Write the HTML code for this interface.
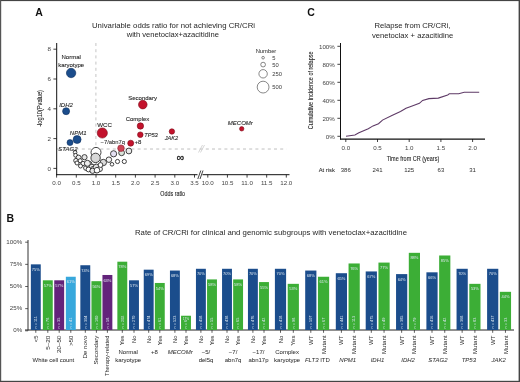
<!DOCTYPE html>
<html><head><meta charset="utf-8"><style>
html,body{margin:0;padding:0;background:#fff;width:520px;height:382px;overflow:hidden}
svg{display:block;font-family:"Liberation Sans", sans-serif;will-change:transform}
</style></head><body>
<svg width="520" height="382" viewBox="0 0 520 382">
<rect width="520" height="382" fill="#fff"/>
<text x="35.30" y="16.00" font-size="10.50" text-anchor="start" fill="#111" style="font-weight:bold" >A</text>
<text x="173.50" y="28.00" font-size="7.90" text-anchor="middle" fill="#262626" textLength="163.00" lengthAdjust="spacingAndGlyphs" >Univariable odds ratio for not achieving CR/CRi</text>
<text x="172.80" y="37.40" font-size="7.90" text-anchor="middle" fill="#262626" textLength="92.30" lengthAdjust="spacingAndGlyphs" >with venetoclax+azacitidine</text>
<line x1="95.90" y1="43.00" x2="95.90" y2="174.50" stroke="#b8b8b8" stroke-width="0.80" stroke-dasharray="3,3.2"/>
<line x1="57.00" y1="149.02" x2="286.50" y2="149.02" stroke="#b8b8b8" stroke-width="0.90" stroke-dasharray="3,3.2"/>
<line x1="56.70" y1="43.00" x2="56.70" y2="175.20" stroke="#111" stroke-width="1.00" />
<line x1="56.20" y1="174.70" x2="289.50" y2="174.70" stroke="#111" stroke-width="1.00" />
<line x1="53.40" y1="168.40" x2="56.70" y2="168.40" stroke="#111" stroke-width="0.80" />
<text x="49.30" y="170.60" font-size="6.20" text-anchor="middle" fill="#444" >0</text>
<line x1="53.40" y1="138.60" x2="56.70" y2="138.60" stroke="#111" stroke-width="0.80" />
<text x="49.30" y="140.80" font-size="6.20" text-anchor="middle" fill="#444" >2</text>
<line x1="53.40" y1="108.80" x2="56.70" y2="108.80" stroke="#111" stroke-width="0.80" />
<text x="49.30" y="111.00" font-size="6.20" text-anchor="middle" fill="#444" >4</text>
<line x1="53.40" y1="79.00" x2="56.70" y2="79.00" stroke="#111" stroke-width="0.80" />
<text x="49.30" y="81.20" font-size="6.20" text-anchor="middle" fill="#444" >6</text>
<line x1="53.40" y1="49.20" x2="56.70" y2="49.20" stroke="#111" stroke-width="0.80" />
<text x="49.30" y="51.40" font-size="6.20" text-anchor="middle" fill="#444" >8</text>
<line x1="56.60" y1="174.70" x2="56.60" y2="177.60" stroke="#111" stroke-width="0.80" />
<text x="56.60" y="185.40" font-size="6.20" text-anchor="middle" fill="#444" >0.0</text>
<line x1="76.30" y1="174.70" x2="76.30" y2="177.60" stroke="#111" stroke-width="0.80" />
<text x="76.30" y="185.40" font-size="6.20" text-anchor="middle" fill="#444" >0.5</text>
<line x1="96.00" y1="174.70" x2="96.00" y2="177.60" stroke="#111" stroke-width="0.80" />
<text x="96.00" y="185.40" font-size="6.20" text-anchor="middle" fill="#444" >1.0</text>
<line x1="115.70" y1="174.70" x2="115.70" y2="177.60" stroke="#111" stroke-width="0.80" />
<text x="115.70" y="185.40" font-size="6.20" text-anchor="middle" fill="#444" >1.5</text>
<line x1="135.40" y1="174.70" x2="135.40" y2="177.60" stroke="#111" stroke-width="0.80" />
<text x="135.40" y="185.40" font-size="6.20" text-anchor="middle" fill="#444" >2.0</text>
<line x1="155.10" y1="174.70" x2="155.10" y2="177.60" stroke="#111" stroke-width="0.80" />
<text x="155.10" y="185.40" font-size="6.20" text-anchor="middle" fill="#444" >2.5</text>
<line x1="174.80" y1="174.70" x2="174.80" y2="177.60" stroke="#111" stroke-width="0.80" />
<text x="174.80" y="185.40" font-size="6.20" text-anchor="middle" fill="#444" >3.0</text>
<line x1="194.50" y1="174.70" x2="194.50" y2="177.60" stroke="#111" stroke-width="0.80" />
<text x="194.50" y="185.40" font-size="6.20" text-anchor="middle" fill="#444" >3.5</text>
<line x1="207.80" y1="174.70" x2="207.80" y2="177.60" stroke="#111" stroke-width="0.80" />
<text x="207.80" y="185.40" font-size="6.20" text-anchor="middle" fill="#444" >10.0</text>
<line x1="227.43" y1="174.70" x2="227.43" y2="177.60" stroke="#111" stroke-width="0.80" />
<text x="227.43" y="185.40" font-size="6.20" text-anchor="middle" fill="#444" >10.5</text>
<line x1="247.05" y1="174.70" x2="247.05" y2="177.60" stroke="#111" stroke-width="0.80" />
<text x="247.05" y="185.40" font-size="6.20" text-anchor="middle" fill="#444" >11.0</text>
<line x1="266.68" y1="174.70" x2="266.68" y2="177.60" stroke="#111" stroke-width="0.80" />
<text x="266.68" y="185.40" font-size="6.20" text-anchor="middle" fill="#444" >11.5</text>
<line x1="286.30" y1="174.70" x2="286.30" y2="177.60" stroke="#111" stroke-width="0.80" />
<text x="286.30" y="185.40" font-size="6.20" text-anchor="middle" fill="#444" >12.0</text>
<text x="172.70" y="196.00" font-size="7.00" text-anchor="middle" fill="#262626" stroke="#262626" stroke-width="0.10" textLength="24.70" lengthAdjust="spacingAndGlyphs" >Odds ratio</text>
<text x="42.00" y="108.40" font-size="7.00" text-anchor="middle" fill="#262626" stroke="#262626" stroke-width="0.10" textLength="36.80" lengthAdjust="spacingAndGlyphs" transform="rotate(-90 42.00 108.40)" >-log10(Pvalue)</text>
<rect x="197.5" y="171" width="5" height="8" fill="#fff"/>
<line x1="197.80" y1="179.00" x2="200.80" y2="170.50" stroke="#111" stroke-width="0.80" />
<line x1="200.00" y1="179.00" x2="203.00" y2="170.50" stroke="#111" stroke-width="0.80" />
<line x1="198.50" y1="152.50" x2="202.50" y2="145.00" stroke="#ccc" stroke-width="0.80" />
<line x1="200.50" y1="152.50" x2="204.50" y2="145.00" stroke="#ccc" stroke-width="0.80" />
<text x="180.60" y="160.90" font-size="10.50" text-anchor="middle" fill="#222" stroke="#222" stroke-width="0.35" >∞</text>
<circle cx="75.10" cy="152.40" r="1.80" fill="#fff" stroke="#2e2e2e" stroke-width="0.90"/>
<circle cx="75.60" cy="155.30" r="1.90" fill="#fff" stroke="#2e2e2e" stroke-width="0.90"/>
<circle cx="78.60" cy="157.60" r="2.50" fill="#eee" stroke="#2e2e2e" stroke-width="0.90"/>
<circle cx="84.50" cy="157.20" r="2.60" fill="#e6e6e6" stroke="#2e2e2e" stroke-width="0.90"/>
<circle cx="75.90" cy="160.60" r="2.20" fill="#f4f4f4" stroke="#2e2e2e" stroke-width="0.90"/>
<circle cx="80.20" cy="160.70" r="2.00" fill="#fff" stroke="#2e2e2e" stroke-width="0.90"/>
<circle cx="77.00" cy="163.00" r="2.00" fill="#fff" stroke="#2e2e2e" stroke-width="0.90"/>
<circle cx="83.00" cy="163.50" r="2.10" fill="#fff" stroke="#2e2e2e" stroke-width="0.90"/>
<circle cx="80.50" cy="166.00" r="2.00" fill="#fff" stroke="#2e2e2e" stroke-width="0.90"/>
<circle cx="86.00" cy="168.00" r="2.40" fill="#fff" stroke="#2e2e2e" stroke-width="0.90"/>
<circle cx="96.00" cy="152.40" r="5.00" fill="#fff" stroke="#2e2e2e" stroke-width="0.90"/>
<circle cx="95.60" cy="157.90" r="4.70" fill="#d8d8d8" stroke="#2e2e2e" stroke-width="0.90"/>
<circle cx="88.80" cy="164.60" r="3.40" fill="#e4e4e4" stroke="#2e2e2e" stroke-width="0.90"/>
<circle cx="91.90" cy="167.20" r="3.00" fill="#eee" stroke="#2e2e2e" stroke-width="0.90"/>
<circle cx="93.50" cy="169.50" r="3.20" fill="#fff" stroke="#2e2e2e" stroke-width="0.90"/>
<circle cx="96.50" cy="167.50" r="3.40" fill="#e0e0e0" stroke="#2e2e2e" stroke-width="0.90"/>
<circle cx="99.80" cy="169.00" r="2.60" fill="#fff" stroke="#2e2e2e" stroke-width="0.90"/>
<circle cx="103.30" cy="162.50" r="3.20" fill="#dcdcdc" stroke="#2e2e2e" stroke-width="0.90"/>
<circle cx="100.50" cy="165.00" r="2.40" fill="#fff" stroke="#2e2e2e" stroke-width="0.90"/>
<circle cx="88.50" cy="169.50" r="2.40" fill="#fff" stroke="#2e2e2e" stroke-width="0.90"/>
<circle cx="92.50" cy="170.80" r="2.60" fill="#e8e8e8" stroke="#2e2e2e" stroke-width="0.90"/>
<circle cx="97.00" cy="170.20" r="2.80" fill="#fff" stroke="#2e2e2e" stroke-width="0.90"/>
<circle cx="87.40" cy="163.30" r="3.00" fill="#eee" stroke="#2e2e2e" stroke-width="0.90"/>
<circle cx="108.90" cy="159.70" r="2.75" fill="#f2f2f2" stroke="#2e2e2e" stroke-width="0.90"/>
<circle cx="112.00" cy="164.30" r="1.80" fill="#fff" stroke="#2e2e2e" stroke-width="0.90"/>
<circle cx="117.50" cy="161.50" r="2.10" fill="#fff" stroke="#2e2e2e" stroke-width="0.90"/>
<circle cx="124.30" cy="161.50" r="2.10" fill="#fff" stroke="#2e2e2e" stroke-width="0.90"/>
<circle cx="113.60" cy="153.80" r="3.10" fill="#e4e0f2" stroke="#2e2e2e" stroke-width="0.90"/>
<circle cx="121.60" cy="152.80" r="2.90" fill="#dae4da" stroke="#2e2e2e" stroke-width="0.90"/>
<circle cx="128.90" cy="151.00" r="2.90" fill="#eaeaea" stroke="#2e2e2e" stroke-width="0.90"/>
<circle cx="71.10" cy="73.00" r="4.70" fill="#1b4d8c" stroke="#0e2f5e" stroke-width="0.60"/>
<text x="71.20" y="59.40" font-size="6.00" text-anchor="middle" fill="#262626" stroke="#262626" stroke-width="0.10" >Normal</text>
<text x="71.20" y="66.60" font-size="6.00" text-anchor="middle" fill="#262626" stroke="#262626" stroke-width="0.10" >karyotype</text>
<circle cx="66.10" cy="111.20" r="3.50" fill="#1b4d8c" stroke="#0e2f5e" stroke-width="0.60"/>
<text x="66.00" y="107.20" font-size="6.00" text-anchor="middle" fill="#262626" stroke="#262626" stroke-width="0.10" style="font-style:italic" >IDH2</text>
<circle cx="70.00" cy="142.60" r="3.00" fill="#1b4d8c" stroke="#0e2f5e" stroke-width="0.60"/>
<circle cx="77.10" cy="139.50" r="4.00" fill="#1b4d8c" stroke="#0e2f5e" stroke-width="0.60"/>
<text x="78.20" y="134.50" font-size="6.00" text-anchor="middle" fill="#262626" stroke="#262626" stroke-width="0.10" style="font-style:italic" >NPM1</text>
<text x="58.30" y="150.50" font-size="6.00" text-anchor="start" fill="#262626" stroke="#262626" stroke-width="0.10" style="font-style:italic" >STAG2</text>
<circle cx="102.30" cy="133.00" r="5.10" fill="#c3122c" stroke="#7c0a18" stroke-width="0.60"/>
<text x="104.60" y="126.90" font-size="6.20" text-anchor="middle" fill="#262626" stroke="#262626" stroke-width="0.10" >WCC</text>
<circle cx="142.80" cy="104.60" r="4.30" fill="#c3122c" stroke="#7c0a18" stroke-width="0.60"/>
<text x="142.60" y="100.00" font-size="6.00" text-anchor="middle" fill="#262626" stroke="#262626" stroke-width="0.10" >Secondary</text>
<circle cx="140.40" cy="126.00" r="3.20" fill="#c3122c" stroke="#7c0a18" stroke-width="0.60"/>
<text x="137.50" y="121.20" font-size="6.00" text-anchor="middle" fill="#262626" stroke="#262626" stroke-width="0.10" >Complex</text>
<circle cx="140.30" cy="134.70" r="2.80" fill="#c3122c" stroke="#7c0a18" stroke-width="0.60"/>
<text x="144.20" y="136.50" font-size="5.70" text-anchor="start" fill="#262626" stroke="#262626" stroke-width="0.10" style="font-style:italic" >TP53</text>
<circle cx="130.70" cy="143.20" r="3.00" fill="#c3122c" stroke="#7c0a18" stroke-width="0.60"/>
<text x="134.60" y="143.60" font-size="6.00" text-anchor="start" fill="#262626" stroke="#262626" stroke-width="0.10" >+8</text>
<circle cx="121.00" cy="148.20" r="3.30" fill="#cc4455" stroke="#8a2030" stroke-width="0.60"/>
<text x="112.80" y="144.00" font-size="5.85" text-anchor="middle" fill="#262626" stroke="#262626" stroke-width="0.06" >−7/abn7q</text>
<circle cx="171.90" cy="131.50" r="2.70" fill="#c3122c" stroke="#7c0a18" stroke-width="0.60"/>
<text x="171.50" y="140.00" font-size="5.60" text-anchor="middle" fill="#262626" stroke="#262626" stroke-width="0.10" style="font-style:italic" >JAK2</text>
<circle cx="241.70" cy="128.80" r="2.20" fill="#c3122c" stroke="#7c0a18" stroke-width="0.60"/>
<text x="240.30" y="125.20" font-size="6.00" text-anchor="middle" fill="#262626" stroke="#262626" stroke-width="0.10" style="font-style:italic" >MECOMr</text>
<text x="266.00" y="52.60" font-size="5.80" text-anchor="middle" fill="#333" stroke="#333" stroke-width="0.03" >Number</text>
<circle cx="263.10" cy="57.70" r="1.30" fill="#fff" stroke="#555" stroke-width="0.70"/>
<text x="272.20" y="59.70" font-size="5.80" text-anchor="start" fill="#3a3a3a" >5</text>
<circle cx="263.10" cy="64.60" r="2.35" fill="#fff" stroke="#555" stroke-width="0.70"/>
<text x="272.20" y="66.60" font-size="5.80" text-anchor="start" fill="#3a3a3a" >50</text>
<circle cx="263.10" cy="73.80" r="4.20" fill="#fff" stroke="#555" stroke-width="0.70"/>
<text x="272.20" y="75.80" font-size="5.80" text-anchor="start" fill="#3a3a3a" >250</text>
<circle cx="263.10" cy="87.10" r="5.90" fill="#fff" stroke="#555" stroke-width="0.70"/>
<text x="272.20" y="89.10" font-size="5.80" text-anchor="start" fill="#3a3a3a" >500</text>
<text x="307.20" y="15.80" font-size="10.50" text-anchor="start" fill="#111" style="font-weight:bold" >C</text>
<text x="412.40" y="28.40" font-size="7.90" text-anchor="middle" fill="#262626" textLength="76.00" lengthAdjust="spacingAndGlyphs" >Relapse from CR/CRi,</text>
<text x="412.60" y="37.50" font-size="7.90" text-anchor="middle" fill="#262626" textLength="81.40" lengthAdjust="spacingAndGlyphs" >venetoclax + azacitidine</text>
<line x1="340.50" y1="43.00" x2="340.50" y2="139.50" stroke="#111" stroke-width="1.00" />
<line x1="340.00" y1="139.20" x2="485.00" y2="139.20" stroke="#111" stroke-width="1.20" />
<line x1="337.40" y1="136.30" x2="340.50" y2="136.30" stroke="#111" stroke-width="0.80" />
<text x="334.80" y="138.50" font-size="6.20" text-anchor="end" fill="#444" >0%</text>
<line x1="337.40" y1="118.30" x2="340.50" y2="118.30" stroke="#111" stroke-width="0.80" />
<text x="334.80" y="120.50" font-size="6.20" text-anchor="end" fill="#444" >20%</text>
<line x1="337.40" y1="100.30" x2="340.50" y2="100.30" stroke="#111" stroke-width="0.80" />
<text x="334.80" y="102.50" font-size="6.20" text-anchor="end" fill="#444" >40%</text>
<line x1="337.40" y1="82.30" x2="340.50" y2="82.30" stroke="#111" stroke-width="0.80" />
<text x="334.80" y="84.50" font-size="6.20" text-anchor="end" fill="#444" >60%</text>
<line x1="337.40" y1="64.30" x2="340.50" y2="64.30" stroke="#111" stroke-width="0.80" />
<text x="334.80" y="66.50" font-size="6.20" text-anchor="end" fill="#444" >80%</text>
<line x1="337.40" y1="46.30" x2="340.50" y2="46.30" stroke="#111" stroke-width="0.80" />
<text x="334.80" y="48.50" font-size="6.20" text-anchor="end" fill="#444" >100%</text>
<line x1="345.80" y1="139.00" x2="345.80" y2="142.00" stroke="#111" stroke-width="0.80" />
<text x="345.80" y="150.30" font-size="6.20" text-anchor="middle" fill="#444" >0.0</text>
<line x1="377.50" y1="139.00" x2="377.50" y2="142.00" stroke="#111" stroke-width="0.80" />
<text x="377.50" y="150.30" font-size="6.20" text-anchor="middle" fill="#444" >0.5</text>
<line x1="409.20" y1="139.00" x2="409.20" y2="142.00" stroke="#111" stroke-width="0.80" />
<text x="409.20" y="150.30" font-size="6.20" text-anchor="middle" fill="#444" >1.0</text>
<line x1="440.90" y1="139.00" x2="440.90" y2="142.00" stroke="#111" stroke-width="0.80" />
<text x="440.90" y="150.30" font-size="6.20" text-anchor="middle" fill="#444" >1.5</text>
<line x1="472.60" y1="139.00" x2="472.60" y2="142.00" stroke="#111" stroke-width="0.80" />
<text x="472.60" y="150.30" font-size="6.20" text-anchor="middle" fill="#444" >2.0</text>
<text x="413.00" y="161.40" font-size="7.00" text-anchor="middle" fill="#262626" stroke="#262626" stroke-width="0.10" textLength="52.50" lengthAdjust="spacingAndGlyphs" >Time from CR (years)</text>
<text x="313.40" y="90.40" font-size="7.00" text-anchor="middle" fill="#262626" stroke="#262626" stroke-width="0.10" textLength="77.80" lengthAdjust="spacingAndGlyphs" transform="rotate(-90 313.40 90.40)" >Cumulative incidence of relapse</text>
<text x="318.70" y="171.90" font-size="5.80" text-anchor="start" fill="#262626" stroke="#262626" stroke-width="0.05" >At risk</text>
<text x="345.80" y="171.90" font-size="6.00" text-anchor="middle" fill="#333" stroke="#333" stroke-width="0.02" >386</text>
<text x="377.50" y="171.90" font-size="6.00" text-anchor="middle" fill="#333" stroke="#333" stroke-width="0.02" >241</text>
<text x="409.20" y="171.90" font-size="6.00" text-anchor="middle" fill="#333" stroke="#333" stroke-width="0.02" >125</text>
<text x="440.90" y="171.90" font-size="6.00" text-anchor="middle" fill="#333" stroke="#333" stroke-width="0.02" >63</text>
<text x="472.60" y="171.90" font-size="6.00" text-anchor="middle" fill="#333" stroke="#333" stroke-width="0.02" >31</text>
<polyline fill="none" stroke="#5e3a66" stroke-width="1.1" points="346.0,136.3 354.9,135.0 358.9,132.7 368.3,128.7 373.0,125.9 378.5,123.7 382.5,120.1 391.9,115.4 400.5,111.4 406.0,108.3 410.8,106.4 419.4,103.3 422.6,100.4 428.9,98.6 438.3,98.1 447.7,94.9 449.3,93.8 458.7,93.8 464.2,92.3 479.2,92.3"/>
<text x="6.60" y="221.90" font-size="10.50" text-anchor="start" fill="#111" style="font-weight:bold" >B</text>
<text x="271.00" y="235.00" font-size="7.90" text-anchor="middle" fill="#262626" textLength="272.00" lengthAdjust="spacingAndGlyphs" >Rate of CR/CRi for clinical and genomic subgroups with venetoclax+azacitidine</text>
<line x1="28.00" y1="240.00" x2="28.00" y2="330.50" stroke="#333" stroke-width="1.00" />
<line x1="25.00" y1="330.00" x2="514.00" y2="330.00" stroke="#222" stroke-width="1.00" />
<line x1="25.20" y1="330.80" x2="28.00" y2="330.80" stroke="#333" stroke-width="0.80" />
<text x="22.20" y="332.30" font-size="6.20" text-anchor="end" fill="#444" >0%</text>
<line x1="25.20" y1="308.65" x2="28.00" y2="308.65" stroke="#333" stroke-width="0.80" />
<text x="22.20" y="310.15" font-size="6.20" text-anchor="end" fill="#444" >25%</text>
<line x1="25.20" y1="286.50" x2="28.00" y2="286.50" stroke="#333" stroke-width="0.80" />
<text x="22.20" y="288.00" font-size="6.20" text-anchor="end" fill="#444" >50%</text>
<line x1="25.20" y1="264.35" x2="28.00" y2="264.35" stroke="#333" stroke-width="0.80" />
<text x="22.20" y="265.85" font-size="6.20" text-anchor="end" fill="#444" >75%</text>
<line x1="25.20" y1="242.20" x2="28.00" y2="242.20" stroke="#333" stroke-width="0.80" />
<text x="22.20" y="243.70" font-size="6.20" text-anchor="end" fill="#444" >100%</text>
<rect x="30.85" y="264.35" width="9.90" height="65.65" fill="#1b4d8c"/>
<text x="35.80" y="270.95" font-size="4.00" text-anchor="middle" fill="#dfe8f0" >75%</text>
<text x="37.10" y="328.40" font-size="3.80" text-anchor="start" fill="#d8e4ee" transform="rotate(-90 37.10 328.40)" >n = 111</text>
<line x1="35.80" y1="330.00" x2="35.80" y2="332.80" stroke="#333" stroke-width="0.80" />
<text x="37.90" y="335.60" font-size="5.70" text-anchor="end" fill="#333" stroke="#333" stroke-width="0.03" textLength="6.60" lengthAdjust="spacingAndGlyphs" transform="rotate(-90 37.90 335.60)" ><5</text>
<rect x="42.85" y="280.30" width="9.90" height="49.70" fill="#3cae36"/>
<text x="47.80" y="286.90" font-size="4.00" text-anchor="middle" fill="#dfe8f0" >57%</text>
<text x="49.10" y="328.40" font-size="3.80" text-anchor="start" fill="#d8e4ee" transform="rotate(-90 49.10 328.40)" >n = 78</text>
<line x1="47.80" y1="330.00" x2="47.80" y2="332.80" stroke="#333" stroke-width="0.80" />
<text x="49.90" y="335.60" font-size="5.70" text-anchor="end" fill="#333" stroke="#333" stroke-width="0.03" textLength="14.10" lengthAdjust="spacingAndGlyphs" transform="rotate(-90 49.90 335.60)" >5–20</text>
<rect x="54.25" y="280.30" width="9.90" height="49.70" fill="#63237b"/>
<text x="59.20" y="286.90" font-size="4.00" text-anchor="middle" fill="#dfe8f0" >57%</text>
<text x="60.50" y="328.40" font-size="3.80" text-anchor="start" fill="#d8e4ee" transform="rotate(-90 60.50 328.40)" >n = 35</text>
<line x1="59.20" y1="330.00" x2="59.20" y2="332.80" stroke="#333" stroke-width="0.80" />
<text x="61.30" y="335.60" font-size="5.70" text-anchor="end" fill="#333" stroke="#333" stroke-width="0.03" textLength="17.30" lengthAdjust="spacingAndGlyphs" transform="rotate(-90 61.30 335.60)" >20–50</text>
<rect x="65.85" y="276.75" width="9.90" height="53.25" fill="#38a8dc"/>
<text x="70.80" y="283.35" font-size="4.00" text-anchor="middle" fill="#dfe8f0" >61%</text>
<text x="72.10" y="328.40" font-size="3.80" text-anchor="start" fill="#d8e4ee" transform="rotate(-90 72.10 328.40)" >n = 41</text>
<line x1="70.80" y1="330.00" x2="70.80" y2="332.80" stroke="#333" stroke-width="0.80" />
<text x="72.90" y="335.60" font-size="5.70" text-anchor="end" fill="#333" stroke="#333" stroke-width="0.03" textLength="10.20" lengthAdjust="spacingAndGlyphs" transform="rotate(-90 72.90 335.60)" >>50</text>
<rect x="80.35" y="265.24" width="9.90" height="64.76" fill="#1b4d8c"/>
<text x="85.30" y="271.84" font-size="4.00" text-anchor="middle" fill="#dfe8f0" >74%</text>
<text x="86.60" y="328.40" font-size="3.80" text-anchor="start" fill="#d8e4ee" transform="rotate(-90 86.60 328.40)" >n = 304</text>
<line x1="85.30" y1="330.00" x2="85.30" y2="332.80" stroke="#333" stroke-width="0.80" />
<text x="87.40" y="335.60" font-size="5.70" text-anchor="end" fill="#333" stroke="#333" stroke-width="0.03" textLength="23.00" lengthAdjust="spacingAndGlyphs" transform="rotate(-90 87.40 335.60)" >De novo</text>
<rect x="91.45" y="281.18" width="9.90" height="48.82" fill="#3cae36"/>
<text x="96.40" y="287.78" font-size="4.00" text-anchor="middle" fill="#dfe8f0" >56%</text>
<text x="97.70" y="328.40" font-size="3.80" text-anchor="start" fill="#d8e4ee" transform="rotate(-90 97.70 328.40)" >n = 180</text>
<line x1="96.40" y1="330.00" x2="96.40" y2="332.80" stroke="#333" stroke-width="0.80" />
<text x="98.50" y="335.60" font-size="5.70" text-anchor="end" fill="#333" stroke="#333" stroke-width="0.03" textLength="29.00" lengthAdjust="spacingAndGlyphs" transform="rotate(-90 98.50 335.60)" >Secondary</text>
<rect x="102.45" y="274.98" width="9.90" height="55.02" fill="#63237b"/>
<text x="107.40" y="281.58" font-size="4.00" text-anchor="middle" fill="#dfe8f0" >63%</text>
<text x="108.70" y="328.40" font-size="3.80" text-anchor="start" fill="#d8e4ee" transform="rotate(-90 108.70 328.40)" >n = 58</text>
<line x1="107.40" y1="330.00" x2="107.40" y2="332.80" stroke="#333" stroke-width="0.80" />
<text x="109.50" y="335.60" font-size="5.70" text-anchor="end" fill="#333" stroke="#333" stroke-width="0.03" textLength="40.50" lengthAdjust="spacingAndGlyphs" transform="rotate(-90 109.50 335.60)" >Therapy-related</text>
<rect x="117.35" y="261.69" width="9.90" height="68.31" fill="#3cae36"/>
<text x="122.30" y="268.29" font-size="4.00" text-anchor="middle" fill="#dfe8f0" >78%</text>
<text x="123.60" y="328.40" font-size="3.80" text-anchor="start" fill="#d8e4ee" transform="rotate(-90 123.60 328.40)" >n = 202</text>
<line x1="122.30" y1="330.00" x2="122.30" y2="332.80" stroke="#333" stroke-width="0.80" />
<text x="124.40" y="335.60" font-size="5.70" text-anchor="end" fill="#333" stroke="#333" stroke-width="0.03" transform="rotate(-90 124.40 335.60)" >Yes</text>
<rect x="129.05" y="280.30" width="9.90" height="49.70" fill="#1b4d8c"/>
<text x="134.00" y="286.90" font-size="4.00" text-anchor="middle" fill="#dfe8f0" >57%</text>
<text x="135.30" y="328.40" font-size="3.80" text-anchor="start" fill="#d8e4ee" transform="rotate(-90 135.30 328.40)" >n = 270</text>
<line x1="134.00" y1="330.00" x2="134.00" y2="332.80" stroke="#333" stroke-width="0.80" />
<text x="136.10" y="335.60" font-size="5.70" text-anchor="end" fill="#333" stroke="#333" stroke-width="0.03" transform="rotate(-90 136.10 335.60)" >No</text>
<rect x="143.75" y="269.67" width="9.90" height="60.33" fill="#1b4d8c"/>
<text x="148.70" y="276.27" font-size="4.00" text-anchor="middle" fill="#dfe8f0" >69%</text>
<text x="150.00" y="328.40" font-size="3.80" text-anchor="start" fill="#d8e4ee" transform="rotate(-90 150.00 328.40)" >n = 474</text>
<line x1="148.70" y1="330.00" x2="148.70" y2="332.80" stroke="#333" stroke-width="0.80" />
<text x="150.80" y="335.60" font-size="5.70" text-anchor="end" fill="#333" stroke="#333" stroke-width="0.03" transform="rotate(-90 150.80 335.60)" >No</text>
<rect x="154.85" y="282.96" width="9.90" height="47.04" fill="#3cae36"/>
<text x="159.80" y="289.56" font-size="4.00" text-anchor="middle" fill="#dfe8f0" >54%</text>
<text x="161.10" y="328.40" font-size="3.80" text-anchor="start" fill="#d8e4ee" transform="rotate(-90 161.10 328.40)" >n = 61</text>
<line x1="159.80" y1="330.00" x2="159.80" y2="332.80" stroke="#333" stroke-width="0.80" />
<text x="161.90" y="335.60" font-size="5.70" text-anchor="end" fill="#333" stroke="#333" stroke-width="0.03" transform="rotate(-90 161.90 335.60)" >Yes</text>
<rect x="169.95" y="270.55" width="9.90" height="59.45" fill="#1b4d8c"/>
<text x="174.90" y="277.15" font-size="4.00" text-anchor="middle" fill="#dfe8f0" >68%</text>
<text x="176.20" y="328.40" font-size="3.80" text-anchor="start" fill="#d8e4ee" transform="rotate(-90 176.20 328.40)" >n = 523</text>
<line x1="174.90" y1="330.00" x2="174.90" y2="332.80" stroke="#333" stroke-width="0.80" />
<text x="177.00" y="335.60" font-size="5.70" text-anchor="end" fill="#333" stroke="#333" stroke-width="0.03" transform="rotate(-90 177.00 335.60)" >No</text>
<rect x="181.05" y="315.74" width="9.90" height="14.26" fill="#3cae36"/>
<text x="186.00" y="319.94" font-size="3.20" text-anchor="middle" fill="#dfe8f0" >17%</text>
<text x="187.30" y="328.40" font-size="3.80" text-anchor="start" fill="#d8e4ee" transform="rotate(-90 187.30 328.40)" >n = 6</text>
<line x1="186.00" y1="330.00" x2="186.00" y2="332.80" stroke="#333" stroke-width="0.80" />
<text x="188.10" y="335.60" font-size="5.70" text-anchor="end" fill="#333" stroke="#333" stroke-width="0.03" transform="rotate(-90 188.10 335.60)" >Yes</text>
<rect x="195.95" y="268.78" width="9.90" height="61.22" fill="#1b4d8c"/>
<text x="200.90" y="275.38" font-size="4.00" text-anchor="middle" fill="#dfe8f0" >70%</text>
<text x="202.20" y="328.40" font-size="3.80" text-anchor="start" fill="#d8e4ee" transform="rotate(-90 202.20 328.40)" >n = 458</text>
<line x1="200.90" y1="330.00" x2="200.90" y2="332.80" stroke="#333" stroke-width="0.80" />
<text x="203.00" y="335.60" font-size="5.70" text-anchor="end" fill="#333" stroke="#333" stroke-width="0.03" transform="rotate(-90 203.00 335.60)" >No</text>
<rect x="207.05" y="279.41" width="9.90" height="50.59" fill="#3cae36"/>
<text x="212.00" y="286.01" font-size="4.00" text-anchor="middle" fill="#dfe8f0" >58%</text>
<text x="213.30" y="328.40" font-size="3.80" text-anchor="start" fill="#d8e4ee" transform="rotate(-90 213.30 328.40)" >n = 55</text>
<line x1="212.00" y1="330.00" x2="212.00" y2="332.80" stroke="#333" stroke-width="0.80" />
<text x="214.10" y="335.60" font-size="5.70" text-anchor="end" fill="#333" stroke="#333" stroke-width="0.03" transform="rotate(-90 214.10 335.60)" >Yes</text>
<rect x="222.05" y="268.78" width="9.90" height="61.22" fill="#1b4d8c"/>
<text x="227.00" y="275.38" font-size="4.00" text-anchor="middle" fill="#dfe8f0" >70%</text>
<text x="228.30" y="328.40" font-size="3.80" text-anchor="start" fill="#d8e4ee" transform="rotate(-90 228.30 328.40)" >n = 438</text>
<line x1="227.00" y1="330.00" x2="227.00" y2="332.80" stroke="#333" stroke-width="0.80" />
<text x="229.10" y="335.60" font-size="5.70" text-anchor="end" fill="#333" stroke="#333" stroke-width="0.03" transform="rotate(-90 229.10 335.60)" >No</text>
<rect x="233.15" y="279.41" width="9.90" height="50.59" fill="#3cae36"/>
<text x="238.10" y="286.01" font-size="4.00" text-anchor="middle" fill="#dfe8f0" >58%</text>
<text x="239.40" y="328.40" font-size="3.80" text-anchor="start" fill="#d8e4ee" transform="rotate(-90 239.40 328.40)" >n = 65</text>
<line x1="238.10" y1="330.00" x2="238.10" y2="332.80" stroke="#333" stroke-width="0.80" />
<text x="240.20" y="335.60" font-size="5.70" text-anchor="end" fill="#333" stroke="#333" stroke-width="0.03" transform="rotate(-90 240.20 335.60)" >Yes</text>
<rect x="247.95" y="268.78" width="9.90" height="61.22" fill="#1b4d8c"/>
<text x="252.90" y="275.38" font-size="4.00" text-anchor="middle" fill="#dfe8f0" >70%</text>
<text x="254.20" y="328.40" font-size="3.80" text-anchor="start" fill="#d8e4ee" transform="rotate(-90 254.20 328.40)" >n = 476</text>
<line x1="252.90" y1="330.00" x2="252.90" y2="332.80" stroke="#333" stroke-width="0.80" />
<text x="255.00" y="335.60" font-size="5.70" text-anchor="end" fill="#333" stroke="#333" stroke-width="0.03" transform="rotate(-90 255.00 335.60)" >No</text>
<rect x="259.05" y="282.07" width="9.90" height="47.93" fill="#3cae36"/>
<text x="264.00" y="288.67" font-size="4.00" text-anchor="middle" fill="#dfe8f0" >55%</text>
<text x="265.30" y="328.40" font-size="3.80" text-anchor="start" fill="#d8e4ee" transform="rotate(-90 265.30 328.40)" >n = 42</text>
<line x1="264.00" y1="330.00" x2="264.00" y2="332.80" stroke="#333" stroke-width="0.80" />
<text x="266.10" y="335.60" font-size="5.70" text-anchor="end" fill="#333" stroke="#333" stroke-width="0.03" transform="rotate(-90 266.10 335.60)" >Yes</text>
<rect x="274.90" y="268.78" width="11.20" height="61.22" fill="#1b4d8c"/>
<text x="280.50" y="275.38" font-size="4.00" text-anchor="middle" fill="#dfe8f0" >70%</text>
<text x="281.80" y="328.40" font-size="3.80" text-anchor="start" fill="#d8e4ee" transform="rotate(-90 281.80 328.40)" >n = 418</text>
<line x1="280.50" y1="330.00" x2="280.50" y2="332.80" stroke="#333" stroke-width="0.80" />
<text x="282.60" y="335.60" font-size="6.00" text-anchor="end" fill="#333" stroke="#333" stroke-width="0.03" transform="rotate(-90 282.60 335.60)" >No</text>
<rect x="287.70" y="283.84" width="11.20" height="46.16" fill="#3cae36"/>
<text x="293.30" y="290.44" font-size="4.00" text-anchor="middle" fill="#dfe8f0" >53%</text>
<text x="294.60" y="328.40" font-size="3.80" text-anchor="start" fill="#d8e4ee" transform="rotate(-90 294.60 328.40)" >n = 98</text>
<line x1="293.30" y1="330.00" x2="293.30" y2="332.80" stroke="#333" stroke-width="0.80" />
<text x="295.40" y="335.60" font-size="6.00" text-anchor="end" fill="#333" stroke="#333" stroke-width="0.03" transform="rotate(-90 295.40 335.60)" >Yes</text>
<rect x="305.20" y="270.55" width="11.20" height="59.45" fill="#1b4d8c"/>
<text x="310.80" y="277.15" font-size="4.00" text-anchor="middle" fill="#dfe8f0" >68%</text>
<text x="312.10" y="328.40" font-size="3.80" text-anchor="start" fill="#d8e4ee" transform="rotate(-90 312.10 328.40)" >n = 507</text>
<line x1="310.80" y1="330.00" x2="310.80" y2="332.80" stroke="#333" stroke-width="0.80" />
<text x="312.90" y="335.60" font-size="6.00" text-anchor="end" fill="#333" stroke="#333" stroke-width="0.03" transform="rotate(-90 312.90 335.60)" >WT</text>
<rect x="317.95" y="276.75" width="11.20" height="53.25" fill="#3cae36"/>
<text x="323.55" y="283.35" font-size="4.00" text-anchor="middle" fill="#dfe8f0" >61%</text>
<text x="324.85" y="328.40" font-size="3.80" text-anchor="start" fill="#d8e4ee" transform="rotate(-90 324.85 328.40)" >n = 67</text>
<line x1="323.55" y1="330.00" x2="323.55" y2="332.80" stroke="#333" stroke-width="0.80" />
<text x="325.65" y="335.60" font-size="6.00" text-anchor="end" fill="#333" stroke="#333" stroke-width="0.03" transform="rotate(-90 325.65 335.60)" >Mutant</text>
<rect x="335.80" y="273.21" width="11.20" height="56.79" fill="#1b4d8c"/>
<text x="341.40" y="279.81" font-size="4.00" text-anchor="middle" fill="#dfe8f0" >65%</text>
<text x="342.70" y="328.40" font-size="3.80" text-anchor="start" fill="#d8e4ee" transform="rotate(-90 342.70 328.40)" >n = 441</text>
<line x1="341.40" y1="330.00" x2="341.40" y2="332.80" stroke="#333" stroke-width="0.80" />
<text x="343.50" y="335.60" font-size="6.00" text-anchor="end" fill="#333" stroke="#333" stroke-width="0.03" transform="rotate(-90 343.50 335.60)" >WT</text>
<rect x="348.55" y="263.46" width="11.20" height="66.54" fill="#3cae36"/>
<text x="354.15" y="270.06" font-size="4.00" text-anchor="middle" fill="#dfe8f0" >76%</text>
<text x="355.45" y="328.40" font-size="3.80" text-anchor="start" fill="#d8e4ee" transform="rotate(-90 355.45 328.40)" >n = 113</text>
<line x1="354.15" y1="330.00" x2="354.15" y2="332.80" stroke="#333" stroke-width="0.80" />
<text x="356.25" y="335.60" font-size="6.00" text-anchor="end" fill="#333" stroke="#333" stroke-width="0.03" transform="rotate(-90 356.25 335.60)" >Mutant</text>
<rect x="365.70" y="271.44" width="11.20" height="58.56" fill="#1b4d8c"/>
<text x="371.30" y="278.04" font-size="4.00" text-anchor="middle" fill="#dfe8f0" >67%</text>
<text x="372.60" y="328.40" font-size="3.80" text-anchor="start" fill="#d8e4ee" transform="rotate(-90 372.60 328.40)" >n = 475</text>
<line x1="371.30" y1="330.00" x2="371.30" y2="332.80" stroke="#333" stroke-width="0.80" />
<text x="373.40" y="335.60" font-size="6.00" text-anchor="end" fill="#333" stroke="#333" stroke-width="0.03" transform="rotate(-90 373.40 335.60)" >WT</text>
<rect x="378.45" y="262.58" width="11.20" height="67.42" fill="#3cae36"/>
<text x="384.05" y="269.18" font-size="4.00" text-anchor="middle" fill="#dfe8f0" >77%</text>
<text x="385.35" y="328.40" font-size="3.80" text-anchor="start" fill="#d8e4ee" transform="rotate(-90 385.35 328.40)" >n = 49</text>
<line x1="384.05" y1="330.00" x2="384.05" y2="332.80" stroke="#333" stroke-width="0.80" />
<text x="386.15" y="335.60" font-size="6.00" text-anchor="end" fill="#333" stroke="#333" stroke-width="0.03" transform="rotate(-90 386.15 335.60)" >Mutant</text>
<rect x="396.05" y="274.10" width="11.20" height="55.90" fill="#1b4d8c"/>
<text x="401.65" y="280.70" font-size="4.00" text-anchor="middle" fill="#dfe8f0" >64%</text>
<text x="402.95" y="328.40" font-size="3.80" text-anchor="start" fill="#d8e4ee" transform="rotate(-90 402.95 328.40)" >n = 385</text>
<line x1="401.65" y1="330.00" x2="401.65" y2="332.80" stroke="#333" stroke-width="0.80" />
<text x="403.75" y="335.60" font-size="6.00" text-anchor="end" fill="#333" stroke="#333" stroke-width="0.03" transform="rotate(-90 403.75 335.60)" >WT</text>
<rect x="408.80" y="252.83" width="11.20" height="77.17" fill="#3cae36"/>
<text x="414.40" y="259.43" font-size="4.00" text-anchor="middle" fill="#dfe8f0" >88%</text>
<text x="415.70" y="328.40" font-size="3.80" text-anchor="start" fill="#d8e4ee" transform="rotate(-90 415.70 328.40)" >n = 79</text>
<line x1="414.40" y1="330.00" x2="414.40" y2="332.80" stroke="#333" stroke-width="0.80" />
<text x="416.50" y="335.60" font-size="6.00" text-anchor="end" fill="#333" stroke="#333" stroke-width="0.03" transform="rotate(-90 416.50 335.60)" >Mutant</text>
<rect x="426.40" y="272.32" width="11.20" height="57.68" fill="#1b4d8c"/>
<text x="432.00" y="278.92" font-size="4.00" text-anchor="middle" fill="#dfe8f0" >66%</text>
<text x="433.30" y="328.40" font-size="3.80" text-anchor="start" fill="#d8e4ee" transform="rotate(-90 433.30 328.40)" >n = 416</text>
<line x1="432.00" y1="330.00" x2="432.00" y2="332.80" stroke="#333" stroke-width="0.80" />
<text x="434.10" y="335.60" font-size="6.00" text-anchor="end" fill="#333" stroke="#333" stroke-width="0.03" transform="rotate(-90 434.10 335.60)" >WT</text>
<rect x="439.15" y="255.49" width="11.20" height="74.51" fill="#3cae36"/>
<text x="444.75" y="262.09" font-size="4.00" text-anchor="middle" fill="#dfe8f0" >85%</text>
<text x="446.05" y="328.40" font-size="3.80" text-anchor="start" fill="#d8e4ee" transform="rotate(-90 446.05 328.40)" >n = 42</text>
<line x1="444.75" y1="330.00" x2="444.75" y2="332.80" stroke="#333" stroke-width="0.80" />
<text x="446.85" y="335.60" font-size="6.00" text-anchor="end" fill="#333" stroke="#333" stroke-width="0.03" transform="rotate(-90 446.85 335.60)" >Mutant</text>
<rect x="456.55" y="268.78" width="11.20" height="61.22" fill="#1b4d8c"/>
<text x="462.15" y="275.38" font-size="4.00" text-anchor="middle" fill="#dfe8f0" >70%</text>
<text x="463.45" y="328.40" font-size="3.80" text-anchor="start" fill="#d8e4ee" transform="rotate(-90 463.45 328.40)" >n = 368</text>
<line x1="462.15" y1="330.00" x2="462.15" y2="332.80" stroke="#333" stroke-width="0.80" />
<text x="464.25" y="335.60" font-size="6.00" text-anchor="end" fill="#333" stroke="#333" stroke-width="0.03" transform="rotate(-90 464.25 335.60)" >WT</text>
<rect x="469.30" y="283.84" width="11.20" height="46.16" fill="#3cae36"/>
<text x="474.90" y="290.44" font-size="4.00" text-anchor="middle" fill="#dfe8f0" >53%</text>
<text x="476.20" y="328.40" font-size="3.80" text-anchor="start" fill="#d8e4ee" transform="rotate(-90 476.20 328.40)" >n = 83</text>
<line x1="474.90" y1="330.00" x2="474.90" y2="332.80" stroke="#333" stroke-width="0.80" />
<text x="477.00" y="335.60" font-size="6.00" text-anchor="end" fill="#333" stroke="#333" stroke-width="0.03" transform="rotate(-90 477.00 335.60)" >Mutant</text>
<rect x="487.10" y="268.78" width="11.20" height="61.22" fill="#1b4d8c"/>
<text x="492.70" y="275.38" font-size="4.00" text-anchor="middle" fill="#dfe8f0" >70%</text>
<text x="494.00" y="328.40" font-size="3.80" text-anchor="start" fill="#d8e4ee" transform="rotate(-90 494.00 328.40)" >n = 437</text>
<line x1="492.70" y1="330.00" x2="492.70" y2="332.80" stroke="#333" stroke-width="0.80" />
<text x="494.80" y="335.60" font-size="6.00" text-anchor="end" fill="#333" stroke="#333" stroke-width="0.03" transform="rotate(-90 494.80 335.60)" >WT</text>
<rect x="499.85" y="291.82" width="11.20" height="38.18" fill="#3cae36"/>
<text x="505.45" y="298.42" font-size="4.00" text-anchor="middle" fill="#dfe8f0" >44%</text>
<text x="506.75" y="328.40" font-size="3.80" text-anchor="start" fill="#d8e4ee" transform="rotate(-90 506.75 328.40)" >n = 33</text>
<line x1="505.45" y1="330.00" x2="505.45" y2="332.80" stroke="#333" stroke-width="0.80" />
<text x="507.55" y="335.60" font-size="6.00" text-anchor="end" fill="#333" stroke="#333" stroke-width="0.03" transform="rotate(-90 507.55 335.60)" >Mutant</text>
<text x="53.40" y="362.00" font-size="6.00" text-anchor="middle" fill="#333" stroke="#333" stroke-width="0.04" textLength="41.60" lengthAdjust="spacingAndGlyphs" >White cell count</text>
<text x="128.20" y="354.40" font-size="6.00" text-anchor="middle" fill="#333" stroke="#333" stroke-width="0.04" >Normal</text>
<text x="128.20" y="362.00" font-size="6.00" text-anchor="middle" fill="#333" stroke="#333" stroke-width="0.04" >karyotype</text>
<text x="154.30" y="354.40" font-size="6.00" text-anchor="middle" fill="#333" stroke="#333" stroke-width="0.04" >+8</text>
<text x="180.20" y="354.40" font-size="6.00" text-anchor="middle" fill="#333" stroke="#333" stroke-width="0.04" style="font-style:italic" >MECOMr</text>
<text x="206.00" y="354.40" font-size="6.00" text-anchor="middle" fill="#333" stroke="#333" stroke-width="0.04" >−5/</text>
<text x="206.00" y="362.00" font-size="6.00" text-anchor="middle" fill="#333" stroke="#333" stroke-width="0.04" >del5q</text>
<text x="233.10" y="354.40" font-size="6.00" text-anchor="middle" fill="#333" stroke="#333" stroke-width="0.04" >−7/</text>
<text x="233.10" y="362.00" font-size="6.00" text-anchor="middle" fill="#333" stroke="#333" stroke-width="0.04" >abn7q</text>
<text x="258.50" y="354.40" font-size="6.00" text-anchor="middle" fill="#333" stroke="#333" stroke-width="0.04" >−17/</text>
<text x="258.50" y="362.00" font-size="6.00" text-anchor="middle" fill="#333" stroke="#333" stroke-width="0.04" >abn17p</text>
<text x="287.10" y="354.40" font-size="6.00" text-anchor="middle" fill="#333" stroke="#333" stroke-width="0.04" >Complex</text>
<text x="287.10" y="362.00" font-size="6.00" text-anchor="middle" fill="#333" stroke="#333" stroke-width="0.04" >karyotype</text>
<text x="317.4" y="361.8" font-size="6" text-anchor="middle" fill="#2a2a2a"><tspan style="font-style:italic">FLT3</tspan> ITD</text>
<text x="347.70" y="361.80" font-size="6.00" text-anchor="middle" fill="#333" stroke="#333" stroke-width="0.04" style="font-style:italic" >NPM1</text>
<text x="377.50" y="361.80" font-size="6.00" text-anchor="middle" fill="#333" stroke="#333" stroke-width="0.04" style="font-style:italic" >IDH1</text>
<text x="408.10" y="361.80" font-size="6.00" text-anchor="middle" fill="#333" stroke="#333" stroke-width="0.04" style="font-style:italic" >IDH2</text>
<text x="437.90" y="361.80" font-size="6.00" text-anchor="middle" fill="#333" stroke="#333" stroke-width="0.04" style="font-style:italic" >STAG2</text>
<text x="468.80" y="361.80" font-size="6.00" text-anchor="middle" fill="#333" stroke="#333" stroke-width="0.04" style="font-style:italic" >TP53</text>
<text x="498.70" y="361.80" font-size="6.00" text-anchor="middle" fill="#333" stroke="#333" stroke-width="0.04" style="font-style:italic" >JAK2</text>
<rect x="0" y="0" width="520" height="1.1" fill="#444"/>
<rect x="0" y="0" width="1.2" height="382" fill="#555"/>
<rect x="518.6" y="0" width="1.4" height="382" fill="#444"/>
<rect x="0" y="380.8" width="520" height="1.2" fill="#444"/>
</svg></body></html>
